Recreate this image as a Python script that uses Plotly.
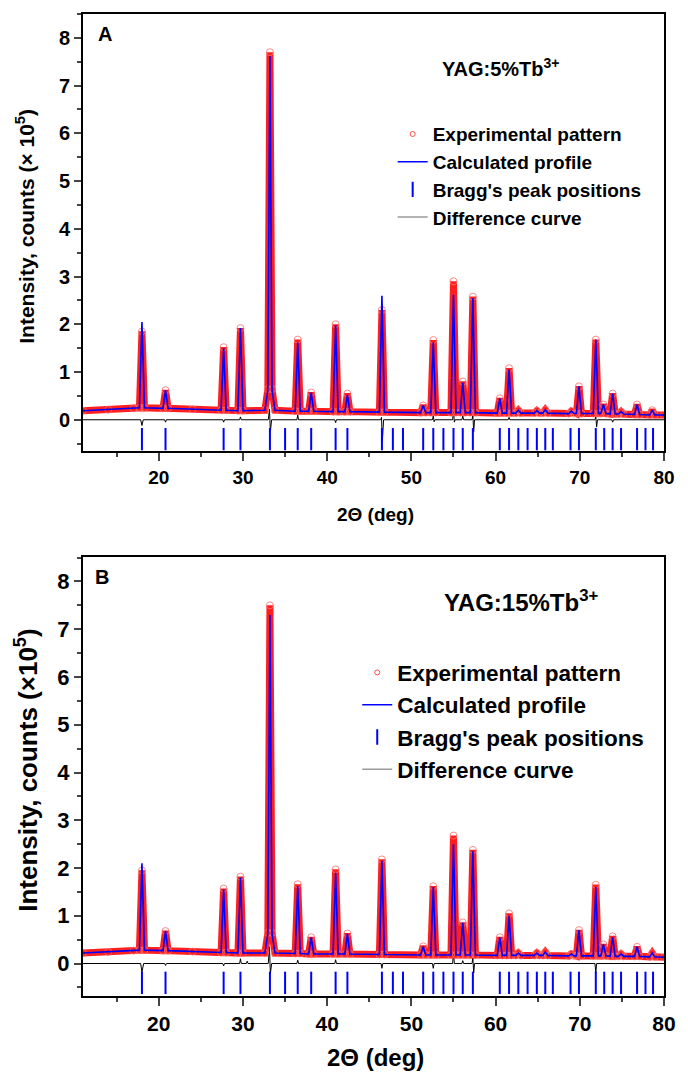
import plotly.graph_objects as go

# ---------------- data ----------------
two_theta = [11.0, 14.0, 17.0, 17.7, 18.0, 18.3, 20.5, 20.8, 21.1, 24.0,
             27.4, 27.7, 28.0, 29.4, 29.7, 30.0, 32.6, 32.95, 33.2, 33.45, 33.8,
             36.2, 36.5, 36.8, 37.8, 38.1, 38.4, 40.7, 41.0, 41.3, 42.1, 42.4, 42.7,
             46.2, 46.5, 46.8, 51.1, 51.4, 51.7, 52.3, 52.6, 52.9, 54.7, 55.0, 55.3,
             55.8, 56.1, 56.4, 57.0, 57.3, 57.6, 60.2, 60.5, 60.8, 61.3, 61.6, 61.9,
             62.4, 62.7, 63.0, 64.6, 64.9, 65.2, 65.6, 65.9, 66.2, 68.7, 69.0, 69.3,
             69.6, 69.9, 70.2, 71.6, 71.9, 72.2, 72.5, 72.8, 73.1, 73.6, 73.9, 74.2,
             74.6, 74.9, 75.2, 76.5, 76.8, 77.1, 78.3, 78.6, 78.9, 80.0]

calc_A = [0.19, 0.21, 0.24, 0.25, 2.05, 0.25, 0.24, 0.62, 0.24, 0.22,
          0.20, 1.50, 0.20, 0.19, 1.92, 0.19, 0.20, 0.62, 7.62, 0.62, 0.20,
          0.18, 1.62, 0.18, 0.18, 0.57, 0.18, 0.17, 1.98, 0.17, 0.17, 0.52, 0.17,
          0.16, 2.60, 0.16, 0.15, 0.30, 0.15, 0.15, 1.62, 0.15, 0.15, 2.62, 0.15,
          0.15, 0.78, 0.15, 0.15, 2.55, 0.15, 0.14, 0.45, 0.14, 0.14, 1.05, 0.14,
          0.14, 0.20, 0.14, 0.14, 0.19, 0.14, 0.14, 0.21, 0.14, 0.13, 0.18, 0.13,
          0.13, 0.70, 0.13, 0.13, 1.68, 0.13, 0.13, 0.32, 0.13, 0.12, 0.55, 0.12,
          0.12, 0.17, 0.12, 0.11, 0.32, 0.11, 0.10, 0.20, 0.10, 0.10]

obs_A = [0.19, 0.21, 0.24, 0.25, 1.85, 0.25, 0.24, 0.62, 0.24, 0.22,
         0.20, 1.52, 0.20, 0.19, 1.92, 0.19, 0.20, 0.64, 7.70, 0.64, 0.20,
         0.18, 1.68, 0.18, 0.18, 0.57, 0.18, 0.17, 2.00, 0.17, 0.17, 0.55, 0.17,
         0.16, 2.30, 0.16, 0.15, 0.30, 0.15, 0.15, 1.67, 0.15, 0.15, 2.90, 0.15,
         0.15, 0.80, 0.15, 0.15, 2.58, 0.15, 0.14, 0.45, 0.14, 0.14, 1.08, 0.14,
         0.14, 0.20, 0.14, 0.14, 0.19, 0.14, 0.14, 0.21, 0.14, 0.13, 0.18, 0.13,
         0.13, 0.70, 0.13, 0.13, 1.68, 0.13, 0.13, 0.32, 0.13, 0.12, 0.55, 0.12,
         0.12, 0.17, 0.12, 0.11, 0.32, 0.11, 0.10, 0.20, 0.10, 0.10]

calc_B = [0.22, 0.24, 0.27, 0.28, 2.10, 0.28, 0.27, 0.68, 0.27, 0.25,
          0.23, 1.55, 0.23, 0.22, 1.80, 0.22, 0.22, 0.62, 7.30, 0.62, 0.22,
          0.21, 1.62, 0.21, 0.20, 0.55, 0.20, 0.20, 1.90, 0.20, 0.20, 0.62, 0.20,
          0.19, 2.15, 0.19, 0.18, 0.35, 0.18, 0.18, 1.60, 0.18, 0.18, 2.50, 0.18,
          0.18, 0.85, 0.18, 0.18, 2.35, 0.18, 0.17, 0.55, 0.17, 0.17, 1.00, 0.17,
          0.17, 0.22, 0.17, 0.17, 0.22, 0.17, 0.17, 0.24, 0.17, 0.16, 0.20, 0.16,
          0.16, 0.70, 0.16, 0.16, 1.60, 0.16, 0.16, 0.40, 0.16, 0.15, 0.55, 0.15,
          0.15, 0.20, 0.15, 0.15, 0.35, 0.15, 0.14, 0.22, 0.14, 0.13]

obs_B = [0.22, 0.24, 0.27, 0.28, 1.95, 0.28, 0.27, 0.68, 0.27, 0.25,
         0.23, 1.57, 0.23, 0.22, 1.82, 0.22, 0.22, 0.64, 7.50, 0.64, 0.22,
         0.21, 1.66, 0.21, 0.20, 0.55, 0.20, 0.20, 1.97, 0.20, 0.20, 0.63, 0.20,
         0.19, 2.18, 0.19, 0.18, 0.36, 0.18, 0.18, 1.62, 0.18, 0.18, 2.68, 0.18,
         0.18, 0.86, 0.18, 0.18, 2.38, 0.18, 0.17, 0.55, 0.17, 0.17, 1.05, 0.17,
         0.17, 0.22, 0.17, 0.17, 0.22, 0.17, 0.17, 0.24, 0.17, 0.16, 0.20, 0.16,
         0.16, 0.70, 0.16, 0.16, 1.65, 0.16, 0.16, 0.40, 0.16, 0.15, 0.57, 0.15,
         0.15, 0.20, 0.15, 0.15, 0.35, 0.15, 0.14, 0.22, 0.14, 0.13]

diff_x_A = [11.0, 17.85, 18.0, 18.15, 20.7, 20.8, 20.9, 27.6, 27.7, 27.8,
            29.6, 29.7, 29.8, 33.0, 33.15, 33.25, 33.4, 36.4, 36.5, 36.6,
            40.9, 41.0, 41.1, 46.35, 46.45, 46.55, 46.7, 52.5, 52.6, 52.7, 52.8,
            54.9, 55.0, 55.1, 55.2, 56.0, 56.1, 56.2, 57.2, 57.3, 57.4, 57.5,
            61.5, 61.6, 61.7, 71.8, 71.9, 72.0, 72.1, 73.8, 73.9, 74.0, 80.0]
diff_y_A = [0.0, 0.0, -0.12, 0.0, 0.0, -0.05, 0.0, 0.0, -0.05, 0.0,
            0.0, 0.06, 0.0, 0.0, 0.22, -0.25, 0.0, 0.0, 0.10, 0.0,
            0.0, -0.06, 0.0, 0.0, 0.05, -0.45, 0.0, 0.0, 0.08, -0.04, 0.0,
            0.0, 0.20, -0.05, 0.0, 0.0, 0.08, 0.0, 0.0, 0.10, -0.25, 0.0,
            0.0, 0.05, 0.0, 0.0, 0.06, -0.15, 0.0, 0.0, -0.05, 0.0, 0.0]

diff_x_B = [11.0, 17.85, 18.0, 18.1, 18.2, 20.7, 20.8, 20.9, 27.6, 27.7, 27.8,
            29.6, 29.7, 29.8, 30.4, 30.5, 30.6, 33.0, 33.15, 33.25, 33.4,
            36.4, 36.5, 36.6, 40.9, 41.0, 41.1, 46.4, 46.5, 46.6, 52.5, 52.6, 52.7,
            54.9, 55.0, 55.1, 56.0, 56.1, 56.2, 57.2, 57.3, 57.4, 57.5,
            71.8, 71.9, 72.0, 80.0]
diff_y_B = [0.0, 0.0, -0.18, -0.05, 0.0, 0.0, -0.04, 0.0, 0.0, -0.05, 0.0,
            0.0, 0.10, 0.0, 0.0, 0.05, 0.0, 0.0, 0.35, -0.22, 0.0,
            0.0, 0.07, 0.0, 0.0, 0.08, 0.0, 0.0, -0.10, 0.0, 0.0, -0.10, 0.0,
            0.0, 0.25, 0.0, 0.0, 0.06, 0.0, 0.0, 0.12, -0.20, 0.0,
            0.0, -0.20, 0.0, 0.0]

bragg_pos = [18.0, 20.8, 27.7, 29.7, 33.2, 35.0, 36.5, 38.1, 41.0, 42.4,
             46.5, 47.8, 49.0, 51.4, 52.6, 53.8, 55.0, 56.1, 57.3, 60.5,
             61.6, 62.7, 63.8, 64.9, 65.9, 66.8, 68.9, 69.9, 71.9, 72.9,
             73.9, 74.9, 76.8, 77.8, 78.7]
bragg_level = [-0.405] * len(bragg_pos)

x_ticks = [20, 30, 40, 50, 60, 70, 80]
y_ticks = [0, 1, 2, 3, 4, 5, 6, 7, 8]

legend_names = ["Experimental pattern", "Calculated profile",
                "Bragg's peak positions", "Difference curve"]

FONT = "Arial, Liberation Sans, sans-serif"
RED = "#ff0000"
BLUE = "#0000ff"

fig = go.Figure()


def add_panel(xa, ya, calc, obs, dx, dy, leg):
    fig.add_trace(go.Scatter(x=dx, y=dy, mode="lines", xaxis=xa, yaxis=ya,
                             line=dict(color="black", width=1), showlegend=False))
    fig.add_trace(go.Scatter(x=bragg_pos, y=bragg_level, mode="markers", xaxis=xa, yaxis=ya,
                             marker=dict(symbol="line-ns", size=16, line=dict(color=BLUE, width=2)),
                             showlegend=False))
    fig.add_trace(go.Scatter(x=two_theta, y=obs, mode="lines+markers", xaxis=xa, yaxis=ya,
                             line=dict(color="rgba(255,0,0,0.88)", width=7),
                             marker=dict(symbol="circle-open", size=7, color="rgba(255,110,110,0.8)",
                                         line=dict(width=1)),
                             showlegend=False))
    fig.add_trace(go.Scatter(x=two_theta, y=calc, mode="lines", xaxis=xa, yaxis=ya,
                             line=dict(color=BLUE, width=1.6), showlegend=False))
    # legend entries
    fig.add_trace(go.Scatter(x=[None], y=[None], mode="markers", name=legend_names[0], legend=leg,
                             xaxis=xa, yaxis=ya,
                             marker=dict(symbol="circle-open", size=5, color="rgba(255,60,60,0.9)",
                                         line=dict(width=1))))
    fig.add_trace(go.Scatter(x=[None], y=[None], mode="lines", name=legend_names[1], legend=leg,
                             xaxis=xa, yaxis=ya, line=dict(color=BLUE, width=1.5)))
    fig.add_trace(go.Scatter(x=[None], y=[None], mode="markers", name=legend_names[2], legend=leg,
                             xaxis=xa, yaxis=ya,
                             marker=dict(symbol="line-ns", size=11, line=dict(color=BLUE, width=2))))
    fig.add_trace(go.Scatter(x=[None], y=[None], mode="lines", name=legend_names[3], legend=leg,
                             xaxis=xa, yaxis=ya, line=dict(color="#9a9a9a", width=1.5)))


add_panel("x", "y", calc_A, obs_A, diff_x_A, diff_y_A, "legend")
add_panel("x2", "y2", calc_B, obs_B, diff_x_B, diff_y_B, "legend2")


def xax(size, anchor):
    return dict(range=[11, 80], tickvals=x_ticks, ticks="outside", ticklen=8, tickwidth=2,
                minor=dict(dtick=5, tick0=0, ticks="outside", ticklen=4, tickwidth=2),
                showline=True, linewidth=2, linecolor="black", mirror=True,
                showgrid=False, zeroline=False, anchor=anchor,
                tickfont=dict(family=FONT, size=size, color="black", weight="bold"))


def yax(size, dom, rng, anchor):
    return dict(domain=dom, range=rng, tickvals=y_ticks, ticks="outside", ticklen=7, tickwidth=2,
                minor=dict(dtick=0.5, tick0=0, ticks="outside", ticklen=4, tickwidth=2),
                showline=True, linewidth=2, linecolor="black", mirror=True,
                showgrid=False, zeroline=False, anchor=anchor,
                tickfont=dict(family=FONT, size=size, color="black", weight="bold"))


fig.update_layout(
    width=688, height=1076,
    margin=dict(l=83, r=15, t=13, b=80),
    paper_bgcolor="white", plot_bgcolor="white",
    xaxis=xax(19, "y"),
    yaxis=yax(20, [0.5547, 1.0], [-0.66, 8.5], "x"),
    xaxis2=xax(21, "y2"),
    yaxis2=yax(22, [0.0, 0.4469], [-0.68, 8.51], "x2"),
    legend=dict(x=0.533, y=0.897, xanchor="left", yanchor="top", bgcolor="rgba(0,0,0,0)",
                font=dict(family=FONT, size=19, color="black", weight="bold"), tracegroupgap=0),
    legend2=dict(x=0.472, y=0.351, xanchor="left", yanchor="top", bgcolor="rgba(0,0,0,0)",
                 font=dict(family=FONT, size=22.5, color="black", weight="bold"), tracegroupgap=0),
    annotations=[
        dict(text="A", x=0.022, y=0.9797, xref="paper", yref="paper", xanchor="left", yanchor="middle",
             showarrow=False, font=dict(family=FONT, size=20, color="black", weight="bold")),
        dict(text="B", x=0.0175, y=0.4266, xref="paper", yref="paper", xanchor="left", yanchor="middle",
             showarrow=False, font=dict(family=FONT, size=20, color="black", weight="bold")),
        dict(text="YAG:5%Tb<sup>3+</sup>", x=0.6136, y=0.9456, xref="paper", yref="paper",
             xanchor="left", yanchor="middle", showarrow=False,
             font=dict(family=FONT, size=20, color="black", weight="bold")),
        dict(text="YAG:15%Tb<sup>3+</sup>", x=0.6186, y=0.4018, xref="paper", yref="paper",
             xanchor="left", yanchor="middle", showarrow=False,
             font=dict(family=FONT, size=24, color="black", weight="bold")),
        dict(text="2Θ (deg)", x=0.503, y=0.4903, xref="paper", yref="paper",
             xanchor="center", yanchor="middle", showarrow=False,
             font=dict(family=FONT, size=19, color="black", weight="bold")),
        dict(text="2Θ (deg)", x=0.503, y=-0.063, xref="paper", yref="paper",
             xanchor="center", yanchor="middle", showarrow=False,
             font=dict(family=FONT, size=24, color="black", weight="bold")),
        dict(text="Intensity, counts (× 10<sup>5</sup>)", x=-0.1, y=0.7843, xref="paper", yref="paper",
             xanchor="center", yanchor="middle", textangle=-90, showarrow=False,
             font=dict(family=FONT, size=21, color="black", weight="bold")),
        dict(text="Intensity, counts (×10<sup>5</sup>)", x=-0.0965, y=0.2303, xref="paper", yref="paper",
             xanchor="center", yanchor="middle", textangle=-90, showarrow=False,
             font=dict(family=FONT, size=26, color="black", weight="bold")),
    ],
)

fig.write_html("out.html")
